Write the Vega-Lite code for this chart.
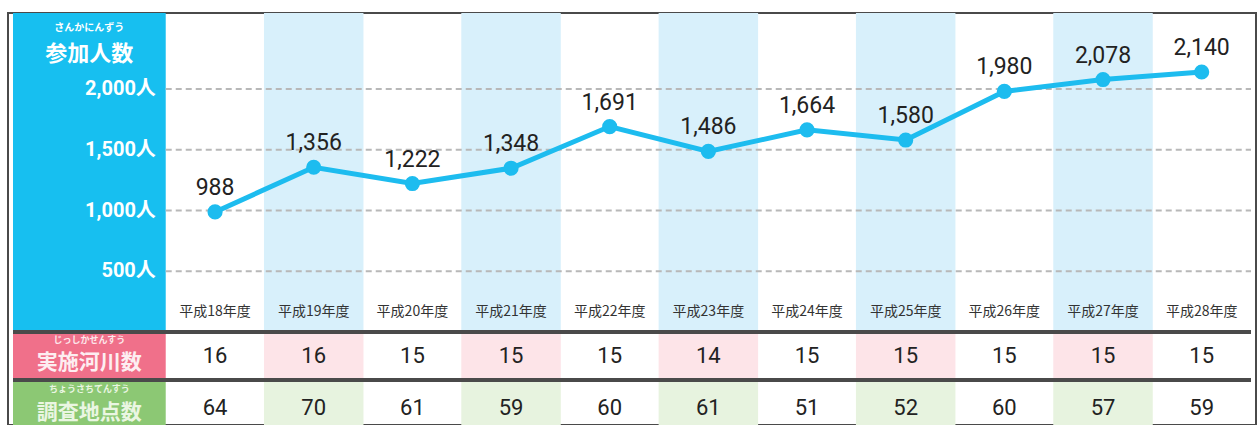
{
  "$schema": "https://vega.github.io/schema/vega-lite/v6.json",
  "width": 1259,
  "height": 425,
  "autosize": {"type": "fit", "contains": "padding"},
  "padding": {"left": 8, "top": 13, "right": 3, "bottom": 0},
  "background": "white",
  "config": {"view": {"stroke": "#4a4a4a", "strokeWidth": 2}},
  "datasets": {
    "years": [
      {"year": "平成18年度", "nen": 18, "people": 988, "rivers": 16, "points": 64},
      {"year": "平成19年度", "nen": 19, "people": 1356, "rivers": 16, "points": 70},
      {"year": "平成20年度", "nen": 20, "people": 1222, "rivers": 15, "points": 61},
      {"year": "平成21年度", "nen": 21, "people": 1348, "rivers": 15, "points": 59},
      {"year": "平成22年度", "nen": 22, "people": 1691, "rivers": 15, "points": 60},
      {"year": "平成23年度", "nen": 23, "people": 1486, "rivers": 14, "points": 61},
      {"year": "平成24年度", "nen": 24, "people": 1664, "rivers": 15, "points": 51},
      {"year": "平成25年度", "nen": 25, "people": 1580, "rivers": 15, "points": 52},
      {"year": "平成26年度", "nen": 26, "people": 1980, "rivers": 15, "points": 60},
      {"year": "平成27年度", "nen": 27, "people": 2078, "rivers": 15, "points": 57},
      {"year": "平成28年度", "nen": 28, "people": 2140, "rivers": 15, "points": 59}
    ],
    "ticks": [
      {"v": 500, "label": "500人"},
      {"v": 1000, "label": "1,000人"},
      {"v": 1500, "label": "1,500人"},
      {"v": 2000, "label": "2,000人"}
    ]
  },
  "data": {"name": "years"},
  "layer": [
    {
      "transform": [{"filter": "datum.nen % 2 == 1"}],
      "mark": {"type": "bar", "width": 99.5, "color": "#d8f0fb"},
      "encoding": {
        "x": {"field": "nen", "type": "quantitative", "axis": null, "scale": {"domain": [15.952, 28.5], "nice": false, "zero": false}},
        "y": {"datum": 2625.5, "type": "quantitative", "axis": null, "scale": {"domain": [-765.4, 2625.5], "nice": false, "zero": false}},
        "y2": {"datum": 16.5}
      }
    },
    {
      "transform": [{"filter": "datum.nen % 2 == 1"}],
      "mark": {"type": "bar", "width": 99.5, "color": "#fde4e8"},
      "encoding": {
        "x": {"field": "nen", "type": "quantitative", "axis": null},
        "y": {"datum": -16.5, "type": "quantitative", "axis": null},
        "y2": {"datum": -378.6}
      }
    },
    {
      "transform": [{"filter": "datum.nen % 2 == 1"}],
      "mark": {"type": "bar", "width": 99.5, "color": "#e7f3df"},
      "encoding": {
        "x": {"field": "nen", "type": "quantitative", "axis": null},
        "y": {"datum": -411.5, "type": "quantitative", "axis": null},
        "y2": {"datum": -765.4}
      }
    },
    {
      "data": {"values": [{}]},
      "mark": {"type": "rect", "color": "#17bff0"},
      "encoding": {
        "x": {"datum": 15.952, "type": "quantitative", "axis": null},
        "x2": {"datum": 17.5},
        "y": {"datum": 2625.5, "type": "quantitative", "axis": null},
        "y2": {"datum": 0}
      }
    },
    {
      "data": {"values": [{}]},
      "mark": {"type": "rect", "color": "#f0708a"},
      "encoding": {
        "x": {"datum": 15.952, "type": "quantitative", "axis": null},
        "x2": {"datum": 17.5},
        "y": {"datum": 0, "type": "quantitative", "axis": null},
        "y2": {"datum": -395}
      }
    },
    {
      "data": {"values": [{}]},
      "mark": {"type": "rect", "color": "#8cc874"},
      "encoding": {
        "x": {"datum": 15.952, "type": "quantitative", "axis": null},
        "x2": {"datum": 17.5},
        "y": {"datum": -395, "type": "quantitative", "axis": null},
        "y2": {"datum": -765.4}
      }
    },
    {
      "data": {"name": "ticks"},
      "mark": {"type": "rule", "color": "#b8b8b8", "strokeWidth": 2, "strokeDash": [6, 4]},
      "encoding": {
        "x": {"datum": 17.5, "type": "quantitative", "axis": null},
        "x2": {"datum": 28.5},
        "y": {"field": "v", "type": "quantitative", "axis": null}
      }
    },
    {
      "data": {"name": "ticks"},
      "mark": {"type": "text", "align": "right", "baseline": "middle", "color": "white", "fontSize": 20, "fontWeight": "bold", "font": "Liberation Sans Narrow, Roboto, Noto Sans CJK JP, sans-serif"},
      "encoding": {
        "x": {"datum": 17.4, "type": "quantitative", "axis": null},
        "y": {"field": "v", "type": "quantitative", "axis": null},
        "text": {"field": "label"}
      }
    },
    {
      "data": {"values": [{}]},
      "mark": {"type": "rule", "color": "#4a4a4a", "strokeWidth": 4},
      "encoding": {
        "x": {"datum": 15.952, "type": "quantitative", "axis": null},
        "x2": {"datum": 28.5},
        "y": {"datum": 0, "type": "quantitative", "axis": null}
      }
    },
    {
      "data": {"values": [{}]},
      "mark": {"type": "rule", "color": "#4a4a4a", "strokeWidth": 4},
      "encoding": {
        "x": {"datum": 15.952, "type": "quantitative", "axis": null},
        "x2": {"datum": 28.5},
        "y": {"datum": -395, "type": "quantitative", "axis": null}
      }
    },
    {
      "mark": {"type": "line", "color": "#1dbcef", "strokeWidth": 5},
      "encoding": {
        "x": {"field": "nen", "type": "quantitative", "axis": null},
        "y": {"field": "people", "type": "quantitative", "axis": null}
      }
    },
    {
      "mark": {"type": "circle", "color": "#1dbcef", "opacity": 1, "size": 230},
      "encoding": {
        "x": {"field": "nen", "type": "quantitative", "axis": null},
        "y": {"field": "people", "type": "quantitative", "axis": null}
      }
    },
    {
      "mark": {"type": "text", "baseline": "alphabetic", "dy": -17, "fontSize": 23, "color": "#222222", "font": "Liberation Sans Narrow, Roboto, sans-serif"},
      "encoding": {
        "x": {"field": "nen", "type": "quantitative", "axis": null},
        "y": {"field": "people", "type": "quantitative", "axis": null},
        "text": {"field": "people", "type": "quantitative", "format": ","}
      }
    },
    {
      "mark": {"type": "text", "baseline": "middle", "fontSize": 14, "color": "#333333", "font": "Noto Sans CJK JP, sans-serif"},
      "encoding": {
        "x": {"field": "nen", "type": "quantitative", "axis": null},
        "y": {"datum": 164.6, "type": "quantitative", "axis": null},
        "text": {"field": "year"}
      }
    },
    {
      "mark": {"type": "text", "baseline": "middle", "fontSize": 22, "color": "#222222", "font": "Liberation Sans Narrow, Roboto, sans-serif"},
      "encoding": {
        "x": {"field": "nen", "type": "quantitative", "axis": null},
        "y": {"datum": -197.5, "type": "quantitative", "axis": null},
        "text": {"field": "rivers"}
      }
    },
    {
      "mark": {"type": "text", "baseline": "middle", "fontSize": 22, "color": "#222222", "font": "Liberation Sans Narrow, Roboto, sans-serif"},
      "encoding": {
        "x": {"field": "nen", "type": "quantitative", "axis": null},
        "y": {"datum": -625.5, "type": "quantitative", "axis": null},
        "text": {"field": "points"}
      }
    },
    {
      "data": {"values": [{}]},
      "mark": {"type": "text", "text": "さんかにんずう", "baseline": "middle", "fontSize": 10, "fontWeight": "bold", "color": "white", "font": "Noto Sans CJK JP, sans-serif"},
      "encoding": {
        "x": {"datum": 16.726, "type": "quantitative", "axis": null},
        "y": {"datum": 2502, "type": "quantitative", "axis": null}
      }
    },
    {
      "data": {"values": [{}]},
      "mark": {"type": "text", "text": "参加人数", "baseline": "middle", "fontSize": 22, "fontWeight": "bold", "color": "white", "font": "Noto Sans CJK JP, sans-serif"},
      "encoding": {
        "x": {"datum": 16.726, "type": "quantitative", "axis": null},
        "y": {"datum": 2288, "type": "quantitative", "axis": null}
      }
    },
    {
      "data": {"values": [{}]},
      "mark": {"type": "text", "text": "じっしかせんすう", "baseline": "middle", "fontSize": 9, "fontWeight": "bold", "color": "#fde8ec", "font": "Noto Sans CJK JP, sans-serif"},
      "encoding": {
        "x": {"datum": 16.726, "type": "quantitative", "axis": null},
        "y": {"datum": -62, "type": "quantitative", "axis": null}
      }
    },
    {
      "data": {"values": [{}]},
      "mark": {"type": "text", "text": "実施河川数", "baseline": "middle", "fontSize": 21, "fontWeight": "bold", "color": "#fdeef1", "font": "Noto Sans CJK JP, sans-serif"},
      "encoding": {
        "x": {"datum": 16.726, "type": "quantitative", "axis": null},
        "y": {"datum": -257, "type": "quantitative", "axis": null}
      }
    },
    {
      "data": {"values": [{}]},
      "mark": {"type": "text", "text": "ちょうさちてんすう", "baseline": "middle", "fontSize": 9, "fontWeight": "bold", "color": "#eaf6e2", "font": "Noto Sans CJK JP, sans-serif"},
      "encoding": {
        "x": {"datum": 16.726, "type": "quantitative", "axis": null},
        "y": {"datum": -465, "type": "quantitative", "axis": null}
      }
    },
    {
      "data": {"values": [{}]},
      "mark": {"type": "text", "text": "調査地点数", "baseline": "middle", "fontSize": 21, "fontWeight": "bold", "color": "#eaf6e2", "font": "Noto Sans CJK JP, sans-serif"},
      "encoding": {
        "x": {"datum": 16.726, "type": "quantitative", "axis": null},
        "y": {"datum": -667, "type": "quantitative", "axis": null}
      }
    }
  ]
}
